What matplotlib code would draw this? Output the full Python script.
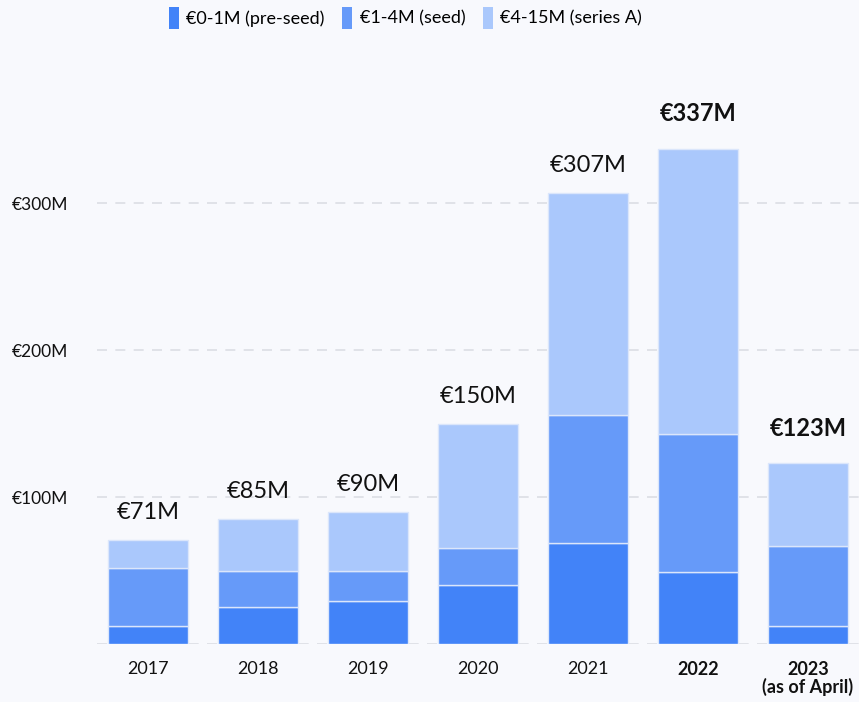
import numpy as np
import matplotlib.pyplot as plt
from matplotlib.patches import Patch

years = ['2017', '2018', '2019', '2020', '2021', '2022', '2023\n(as of April)']
pre_seed = [12, 25, 29, 40, 69, 49, 12]
seed = [40, 25, 21, 25, 87, 94, 55]
series_a = [19, 35, 40, 85, 151, 194, 56]
totals = ['€71M', '€85M', '€90M', '€150M', '€307M', '€337M', '€123M']
bold_idx = [5, 6]

c_pre = '#4283f8'
c_seed = '#669af9'
c_a = '#aac8fc'
bg = '#f8f9fd'

plt.rcParams['font.family'] = ['Lato', 'DejaVu Sans']

fig = plt.figure(figsize=(8.59, 7.02), dpi=100, facecolor=bg)
ax = fig.add_axes([0.1129, 0.0826, 0.8871, 0.8376], facecolor=bg)

x = np.arange(len(years))
w = 0.727
pre = np.array(pre_seed)
sd = np.array(seed)
sa = np.array(series_a)
ax.bar(x, pre, w, color=c_pre, edgecolor='#dbe6fb', linewidth=1, zorder=3)
ax.bar(x, sd, w, bottom=pre, color=c_seed, edgecolor='#dbe6fb', linewidth=1, zorder=3)
ax.bar(x, sa, w, bottom=pre + sd, color=c_a, edgecolor='#dbe6fb', linewidth=1, zorder=3)

# totals above each bar
top = pre + sd + sa
for i in range(len(years)):
    b = i in bold_idx
    ax.annotate(totals[i], (x[i], top[i]), xytext=(0, 17 if b else 12),
                textcoords='offset points', ha='center', va='bottom',
                fontsize=17, fontweight='bold' if b else 'normal', color='#111111')

ax.set_xlim(-0.464, 6.464)
ax.set_ylim(0, 400)
ax.set_yticks([0, 100, 200, 300])
ax.set_yticklabels(['', '€100M', '€200M', '€300M'])
ax.set_xticks(x)
ax.set_xticklabels(years, linespacing=1.0)
for i, lab in enumerate(ax.get_xticklabels()):
    if i in bold_idx:
        lab.set_fontweight('bold')
ax.tick_params(axis='x', length=0, pad=12, labelsize=13, colors='#111111')
ax.tick_params(axis='y', length=0, pad=21, labelsize=12.5, colors='#111111')
for s in ax.spines.values():
    s.set_visible(False)
ax.grid(axis='y', color='#dcdee4', linestyle=(0, (6, 5)), linewidth=1.2, zorder=0)

handles = [Patch(facecolor=c_pre), Patch(facecolor=c_seed), Patch(facecolor=c_a)]
fig.legend(handles, ['€0-1M (pre-seed)', '€1-4M (seed)', '€4-15M (series A)'],
           loc='center', bbox_to_anchor=(0.472, 0.975), ncol=3, frameon=False,
           fontsize=13, handlelength=0.55, handleheight=1.5, handletextpad=0.4,
           columnspacing=1.0)

fig.savefig('out.png', dpi=100, facecolor=bg)
